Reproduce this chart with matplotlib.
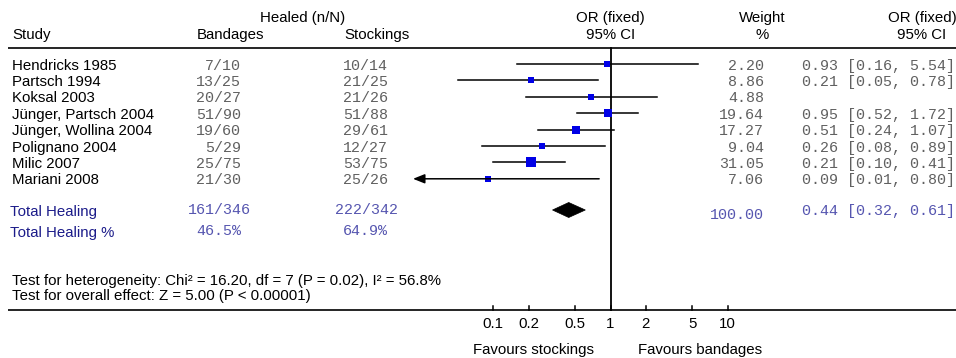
import numpy as np
import matplotlib
matplotlib.use("Agg")
import matplotlib.pyplot as plt
from matplotlib import transforms
from matplotlib.patches import Polygon

# ---------------- data ----------------
studies = ["Hendricks 1985", "Partsch 1994", "Koksal 2003", "Jünger, Partsch 2004",
           "Jünger, Wollina 2004", "Polignano 2004", "Milic 2007", "Mariani 2008"]
bandages = ["7/10", "13/25", "20/27", "51/90", "19/60", "5/29", "25/75", "21/30"]
stockings = ["10/14", "21/25", "21/26", "51/88", "29/61", "12/27", "53/75", "25/26"]
odds_ratio = [0.93, 0.21, 0.68, 0.95, 0.51, 0.26, 0.21, 0.09]
ci_low = [0.16, 0.05, 0.19, 0.52, 0.24, 0.08, 0.10, 0.01]
ci_high = [5.54, 0.78, 2.50, 1.72, 1.07, 0.89, 0.41, 0.80]
weights = [2.20, 8.86, 4.88, 19.64, 17.27, 9.04, 31.05, 7.06]
or_labels = ["0.93 [0.16, 5.54]", "0.21 [0.05, 0.78]", "", "0.95 [0.52, 1.72]",
             "0.51 [0.24, 1.07]", "0.26 [0.08, 0.89]", "0.21 [0.10, 0.41]",
             "0.09 [0.01, 0.80]"]

total_label = "Total Healing"
total_pct_label = "Total Healing %"
total_bandages = "161/346"
total_stockings = "222/342"
pct_bandages = "46.5%"
pct_stockings = "64.9%"
total_or = 0.44
total_low = 0.32
total_high = 0.61
total_weight = "100.00"
total_or_label = "0.44 [0.32, 0.61]"

tick_values = [0.1, 0.2, 0.5, 1, 2, 5, 10]
tick_labels = ["0.1", "0.2", "0.5", "1", "2", "5", "10"]

heterogeneity = "Test for heterogeneity: Chi² = 16.20, df = 7 (P = 0.02), I² = 56.8%"
overall = "Test for overall effect: Z = 5.00 (P < 0.00001)"

# ---------------- layout ----------------
W, H = 956, 358
fig = plt.figure(figsize=(W / 100, H / 100), dpi=100)
ax = fig.add_axes([0, 0, 1, 1])
ax.set_xscale("log")
px_one, px_dec = 610.5, 117.2
ax.set_xlim(10 ** (-px_one / px_dec), 10 ** ((W - px_one) / px_dec))
row_px, row0_px = 16.4, 64.0
ax.set_ylim((H - row0_px) / row_px, -row0_px / row_px)
ax.axis("off")

def rowy(px):
    return (px - row0_px) / row_px

toff = 1.6 / row_px  # text baseline offset
sans = "Liberation Sans"
mono = "Liberation Mono"
fs = 10.8
num_color = "#606060"
blue_lab = "#1c1c8a"
blue_num = "#5656b0"

fx = transforms.blended_transform_factory(fig.transFigure, ax.transData)
def fxp(px):
    return px / W

def st(x, y, s, tr=fx, **kw):
    kw.setdefault("family", sans)
    kw.setdefault("fontsize", fs)
    kw.setdefault("va", "center")
    return ax.text(x, y + toff, s, transform=tr, **kw)

# header
st(fxp(303), rowy(16), "Healed (n/N)", ha="center")
st(fxp(12), rowy(33), "Study", ha="left")
st(fxp(230), rowy(33), "Bandages", ha="center")
st(fxp(377), rowy(33), "Stockings", ha="center")
st(1, rowy(16), "OR (fixed)", tr=ax.transData, ha="center")
st(1, rowy(33), "95% CI", tr=ax.transData, ha="center")
st(fxp(762), rowy(16), "Weight", ha="center")
st(fxp(762), rowy(33), "%", ha="center")
st(fxp(922), rowy(16), "OR (fixed)", ha="center")
st(fxp(922), rowy(33), "95% CI", ha="center")

# rules
rule_y = rowy(47.5)
axis_y = rowy(309.5)
ax.plot([fxp(8), 1], [rule_y, rule_y], transform=fx, color="black", lw=1.2, solid_capstyle="butt")
ax.plot([fxp(8), 1], [axis_y, axis_y], transform=fx, color="black", lw=1.2, solid_capstyle="butt")
ax.plot([1, 1], [rule_y, axis_y], color="black", lw=1.3)

# study rows
plot_min = 10 ** ((413 - px_one) / px_dec)
for i, name in enumerate(studies):
    y = i
    st(fxp(12), y, name, ha="left")
    st(fxp(241), y, bandages[i], ha="right", family=mono, color=num_color)
    st(fxp(388), y, stockings[i], ha="right", family=mono, color=num_color)
    st(fxp(764), y, f"{weights[i]:.2f}", ha="right", family=mono, color=num_color)
    if or_labels[i]:
        st(fxp(955), y, or_labels[i], ha="right", family=mono, color=num_color)
    lo, hi = ci_low[i], ci_high[i]
    if lo < plot_min:
        ax.annotate("", xy=(plot_min, y), xytext=(hi, y),
                    arrowprops=dict(arrowstyle="-|>,head_length=0.7,head_width=0.28",
                                    color="black", lw=1.1, shrinkA=0, shrinkB=0))
    else:
        ax.plot([lo, hi], [y, y], color="black", lw=1.1)
    ms = (5.6 + 0.12 * weights[i]) * 0.72
    ax.plot([odds_ratio[i]], [y], marker="s", ms=ms, color="#0000e6", mec="#0000e6", mew=0)

# totals
ty = rowy(210)
tpy = rowy(231.5)
st(fxp(10), ty, total_label, ha="left", color=blue_lab)
st(fxp(10), tpy, total_pct_label, ha="left", color=blue_lab)
st(fxp(251), ty - 0.1, total_bandages, ha="right", family=mono, color=blue_num)
st(fxp(398), ty - 0.1, total_stockings, ha="right", family=mono, color=blue_num)
st(fxp(241), tpy - 0.1, pct_bandages, ha="right", family=mono, color=blue_num)
st(fxp(388), tpy - 0.1, pct_stockings, ha="right", family=mono, color=blue_num)
st(fxp(764), rowy(213), total_weight, ha="right", family=mono, color=blue_num)
st(fxp(955), rowy(209), total_or_label, ha="right", family=mono, color=blue_num)
dh = 7.5 / row_px
ax.add_patch(Polygon([[total_low, ty], [total_or, ty - dh], [total_high, ty], [total_or, ty + dh]],
                     closed=True, facecolor="black", edgecolor="black", lw=0.5))

# tests
st(fxp(12), rowy(279), heterogeneity, ha="left")
st(fxp(12), rowy(294.5), overall, ha="left")

# axis ticks
for v, lab in zip(tick_values, tick_labels):
    ax.plot([v, v], [axis_y, axis_y - 4 / row_px], color="black", lw=1.1)
    st(v, rowy(322.5), lab, tr=ax.transData, ha="center")

st(10 ** ((533 - px_one) / px_dec), rowy(348), "Favours stockings", tr=ax.transData, ha="center")
st(10 ** ((700 - px_one) / px_dec), rowy(348), "Favours bandages", tr=ax.transData, ha="center")

fig.savefig("out.png", dpi=100, facecolor="white")
